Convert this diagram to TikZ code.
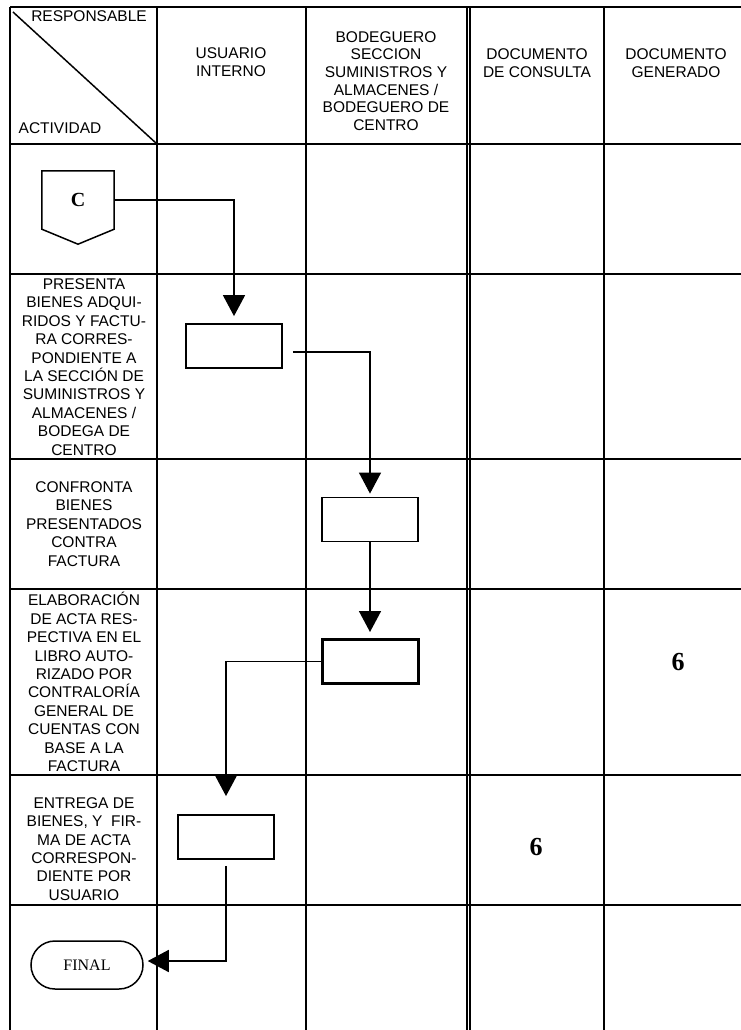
\documentclass[tikz,border=0pt]{standalone}
\usepackage{fontspec}
\setmainfont{Liberation Serif}
\setsansfont{Liberation Sans}
\usetikzlibrary{arrows.meta, positioning}

\begin{document}
\begin{tikzpicture}[x=1pt, y=-1pt, font=\sffamily]
% Setup the styles for the table and the flow
\tikzset{grid line/.style={line width=2pt},
	header/.style={align=center, font=\sffamily\fontsize{15.5}{17.6}\selectfont},
	activity/.style={align=center, font=\sffamily\fontsize{15.5}{18.4}\selectfont},
	process/.style={draw, line width=1.8pt, minimum width=96pt, minimum height=44pt, inner sep=0pt},
	offpage/.style={minimum width=72pt, minimum height=58pt, inner sep=0pt,
		font=\rmfamily\bfseries\fontsize{20}{20}\selectfont},
	terminal/.style={draw, line width=1.5pt, rounded corners=24pt,
		minimum width=112pt, minimum height=48pt,
		font=\rmfamily\fontsize{16}{16}\selectfont},
	docnum/.style={font=\rmfamily\bfseries\fontsize{26}{26}\selectfont},
	flow/.style={line width=1.6pt, -{Triangle[width=22pt,length=21pt]}}}
\useasboundingbox (0,0) rectangle (741,1030);

% Draw the table
\foreach \y in {7,144,274,459,589,775,905}
	\draw[grid line] (10,\y) -- (741,\y);
\foreach \x in {10,157,306,604}
	\draw[grid line] (\x,7) -- (\x,1030);
\draw[line width=1.6pt] (466.8,7) -- (466.8,1030);
\draw[line width=1.6pt] (470.2,7) -- (470.2,1030);
\draw[line width=1.5pt] (13,12) -- (157,144);

% Header
\node[header] (resp) at (89,16) {RESPONSABLE};
\node[header] (activ) at (60,128) {ACTIVIDAD};
\node[header] (usuario) at (231,62) {USUARIO\\INTERNO};
\node[header] (bodeguero) at (386,81) {BODEGUERO\\SECCION\\SUMINISTROS Y\\ALMACENES /\\BODEGUERO DE\\CENTRO};
\node[header] (consulta) at (537,63) {DOCUMENTO\\DE CONSULTA};
\node[header] (generado) at (676,63) {DOCUMENTO\\GENERADO};

% Activities
\node[activity] (act2) at (84,367) {PRESENTA\\BIENES ADQUI-\\RIDOS Y FACTU-\\RA CORRES-\\PONDIENTE A\\LA SECCIÓN DE\\SUMINISTROS Y\\ALMACENES /\\BODEGA DE\\CENTRO};
\node[activity] (act3) at (84,524) {CONFRONTA\\BIENES\\PRESENTADOS\\CONTRA\\FACTURA};
\node[activity] (act4) at (84,682) {ELABORACIÓN\\DE ACTA RES-\\PECTIVA EN EL\\LIBRO AUTO-\\RIZADO POR\\CONTRALORÍA\\GENERAL DE\\CUENTAS CON\\BASE A LA\\FACTURA};
\node[activity] (act5) at (84,849) {ENTREGA DE\\BIENES, Y\ \ FIR-\\MA DE ACTA\\CORRESPON-\\DIENTE POR\\USUARIO};

% Documents
\node[docnum] (gen6) at (678,662) {6};
\node[docnum] (cons6) at (536,847) {6};

% Draw the flow
\node[offpage] (C) at (78,200) {C};
\draw[line width=1.5pt] (C.north west) -- (C.north east) -- (C.south east)
	-- ([yshift=-15pt]C.south) -- (C.south west) -- cycle;
\node[process] (box1) at (234,346) {};
\node[process] (box2) at (370,519.5) {};
\node[process, line width=3pt] (box3) at (370,661.5) {};
\node[process] (box4) at (226,837) {};
\node[terminal] (final) at (87,965) {FINAL};

% Connect the steps
\draw[flow, shorten >=7pt] (C.east) -| (box1.north);
\draw[flow, line width=1.2pt, shorten <=10pt, shorten >=3pt] ([yshift=-6pt]box1.east) -| (box2.north);
\draw[flow, shorten >=6pt] (box2.south) -- (box3.north);
\draw[flow, shorten >=18pt] (box3.west) -| (box4.north);
\draw[flow, shorten <=6pt, shorten >=4pt] (box4.south) |- ([yshift=4pt]final.east);
\end{tikzpicture}
\end{document}
